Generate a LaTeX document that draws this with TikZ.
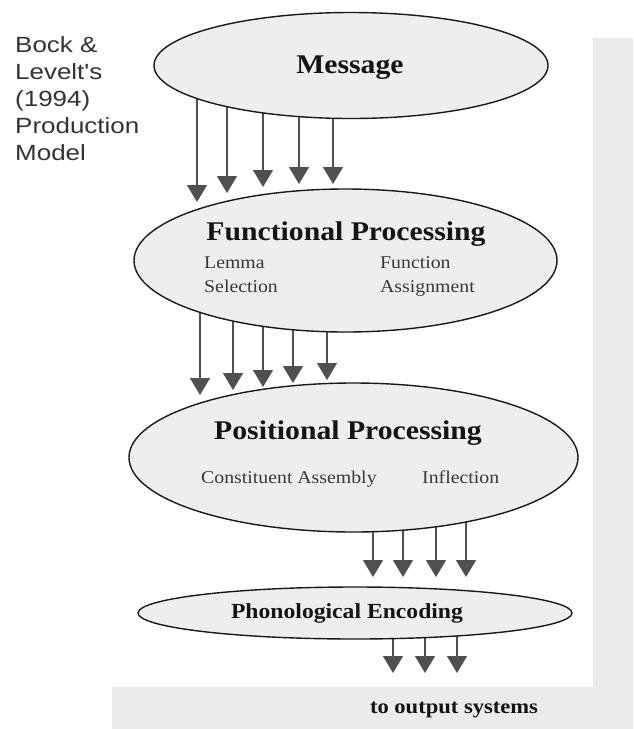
\documentclass[tikz,border=0pt]{standalone}
\usepackage{fontspec}
\setmainfont[FakeStretch=1.1]{Liberation Serif}
\newfontfamily\modelsans[FakeStretch=1.18]{Liberation Sans}
\usetikzlibrary{shapes.geometric,arrows.meta,backgrounds}
\definecolor{shadegray}{HTML}{EBEBEB}
\definecolor{ovalgray}{HTML}{EEEEEE}
\definecolor{arrowgray}{HTML}{505050}

\begin{document}
\begin{tikzpicture}[x=1pt,y=-1pt,
  oval/.style={ellipse,draw=black!90,line width=1.4pt,fill=ovalgray,inner sep=0pt},
  flow/.style={draw=arrowgray,line width=1.3pt,-{Triangle[width=20pt,length=17pt]}},
  title/.style={anchor=base,inner sep=0pt,text=black!92,font=\bfseries\fontsize{27}{32}\selectfont},
  sub/.style={anchor=base west,inner sep=0pt,text=black!78,font=\fontsize{18}{24}\selectfont}]
  \useasboundingbox (0,0) rectangle (633,729);
  % Shadow
  \fill[shadegray] (593,38) rectangle (633,729);
  \fill[shadegray] (112,687) rectangle (633,729);
  % Caption
  \foreach \i/\w in {0/Bock \&, 1/Levelt's, 2/{(1994)}, 3/Production, 4/Model}
    \node[anchor=base west,inner sep=0pt,text=black!80,font=\modelsans\fontsize{22}{27}\selectfont]
      (cap\i) at (15,52+27*\i) {\w};
  % Ovals
  \node[oval,minimum width=394pt,minimum height=106pt] (msg) at (351,65.5) {};
  \node[oval,minimum width=423pt,minimum height=143pt] (func) at (345.5,260.5) {};
  \node[oval,minimum width=449pt,minimum height=149pt] (pos) at (353.5,457.5) {};
  \node[oval,minimum width=434pt,minimum height=52pt] (phon) at (355,613) {};
  % Titles
  \node[title] (msgt) at (350,73) {Message};
  \node[title] (funct) at (346,240) {Functional Processing};
  \node[title] (post) at (348,439) {Positional Processing};
  \node[title,font=\bfseries\fontsize{21.5}{26}\selectfont] (phont) at (347,618) {Phonological Encoding};
  \node[title,font=\bfseries\fontsize{20.5}{25}\selectfont] (out) at (454,713) {to output systems};
  % Sub-processes
  \node[sub] (lem1) at (204,268) {Lemma};
  \node[sub] (lem2) at (204,292) {Selection};
  \node[sub] (fun1) at (380,268) {Function};
  \node[sub] (fun2) at (380,292) {Assignment};
  \node[sub] (cons) at (201,483) {Constituent Assembly};
  \node[sub] (infl) at (422,483) {Inflection};
  % Arrows
  \begin{scope}[on background layer]
    \foreach \x/\t in {197/202, 227/193, 263/187, 299/184, 333/184}
      \draw[flow] (msg.center -| \x,0) -- (\x,\t);
    \foreach \x/\t in {200/395, 233/390, 263/387, 293/383, 327/380}
      \draw[flow] (func.center -| \x,0) -- (\x,\t);
    \foreach \x in {373, 403, 436, 466}
      \draw[flow] (pos.center -| \x,0) -- (\x,577);
    \foreach \x in {393, 425, 457}
      \draw[flow] (phon.center -| \x,0) -- (\x,673);
  \end{scope}
\end{tikzpicture}
\end{document}
